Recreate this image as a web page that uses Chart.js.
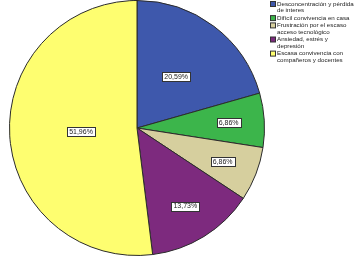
<!DOCTYPE html>
<html lang="es">
<head>
    <meta charset="UTF-8">
    <title>Gráfico circular</title>
    <script src="https://cdn.jsdelivr.net/npm/chart.js@4.4.0/dist/chart.umd.min.js"></script>
    <style>
        html, body { margin: 0; padding: 0; background: #fff; }
        #wrap { width: 361px; height: 259px; }
    </style>
</head>
<body>
    <div id="wrap"><canvas id="grafico" width="361" height="259"></canvas></div>

    <script>
        // Categorías (líneas de la leyenda) y porcentajes
        const categorias = [
            ['Desconcentración y pérdida', 'de interes'],
            ['Difícil convivencia en casa'],
            ['Frustración por el escaso', 'acceso tecnológico'],
            ['Ansiedad, estrés y', 'depresión'],
            ['Escasa convivencia con', 'compañeros y docentes']
        ];
        const porcentajes = [20.59, 6.86, 6.86, 13.73, 51.96];
        const etiquetas = ['20,59%', '6,86%', '6,86%', '13,73%', '51,96%'];
        const colores = ['#3e58ac', '#3cb54b', '#d6cf9e', '#7d2a7e', '#fefe70'];

        const fuente = '"Liberation Sans", Arial, sans-serif';

        // etiquetas con recuadro blanco dentro de cada porción
        const etiquetasPorcion = {
            id: 'etiquetasPorcion',
            afterDatasetsDraw(chart) {
                const ctx = chart.ctx;
                const meta = chart.getDatasetMeta(0);
                ctx.save();
                ctx.font = '7px ' + fuente;
                ctx.textAlign = 'center';
                ctx.textBaseline = 'middle';
                meta.data.forEach((arc, i) => {
                    const p = arc.getProps(['x', 'y', 'startAngle', 'endAngle', 'outerRadius'], true);
                    const medio = (p.startAngle + p.endAngle) / 2;
                    let frac = 0.72;
                    if (porcentajes[i] > 50) frac = 0.44;
                    else if (porcentajes[i] > 20) frac = 0.51;
                    const x = p.x + Math.cos(medio) * p.outerRadius * frac;
                    const y = p.y + Math.sin(medio) * p.outerRadius * frac;
                    const w = ctx.measureText(etiquetas[i]).width + 4;
                    const h = 9;
                    ctx.fillStyle = '#fff';
                    ctx.fillRect(Math.round(x - w / 2) + 0.5, Math.round(y - h / 2) + 0.5, Math.round(w), h);
                    ctx.strokeStyle = '#333';
                    ctx.lineWidth = 1;
                    ctx.strokeRect(Math.round(x - w / 2) + 0.5, Math.round(y - h / 2) + 0.5, Math.round(w), h);
                    ctx.fillStyle = '#222';
                    ctx.fillText(etiquetas[i], x, y + 0.5);
                });
                ctx.restore();
            }
        };

        // leyenda a la derecha, arriba
        const leyenda = {
            id: 'leyenda',
            afterDraw(chart) {
                const ctx = chart.ctx;
                ctx.save();
                ctx.font = '6.2px ' + fuente;
                ctx.textBaseline = 'middle';
                let y = 4;
                chart.data.labels.forEach((lineas, i) => {
                    ctx.fillStyle = colores[i];
                    ctx.fillRect(270.5, y - 2.5, 5, 5);
                    ctx.strokeStyle = '#333';
                    ctx.lineWidth = 1;
                    ctx.strokeRect(270.5, y - 2.5, 5, 5);
                    ctx.fillStyle = '#222';
                    lineas.forEach((t, j) => {
                        ctx.fillText(t, 277, y + j * 6.5);
                    });
                    y += lineas.length * 6.8 + 0.5;
                });
                ctx.restore();
            }
        };

        const ctx = document.getElementById('grafico').getContext('2d');
        const grafico = new Chart(ctx, {
            type: 'pie',
            data: {
                labels: categorias,
                datasets: [{
                    data: porcentajes,
                    backgroundColor: colores,
                    borderColor: '#2b2b2b',
                    borderWidth: 1
                }]
            },
            options: {
                responsive: false,
                animation: false,
                layout: { padding: { left: 8, right: 95, top: 0, bottom: 3 } },
                plugins: {
                    legend: { display: false },
                    tooltip: { enabled: false }
                }
            },
            plugins: [etiquetasPorcion, leyenda]
        });
    </script>
</body>
</html>
